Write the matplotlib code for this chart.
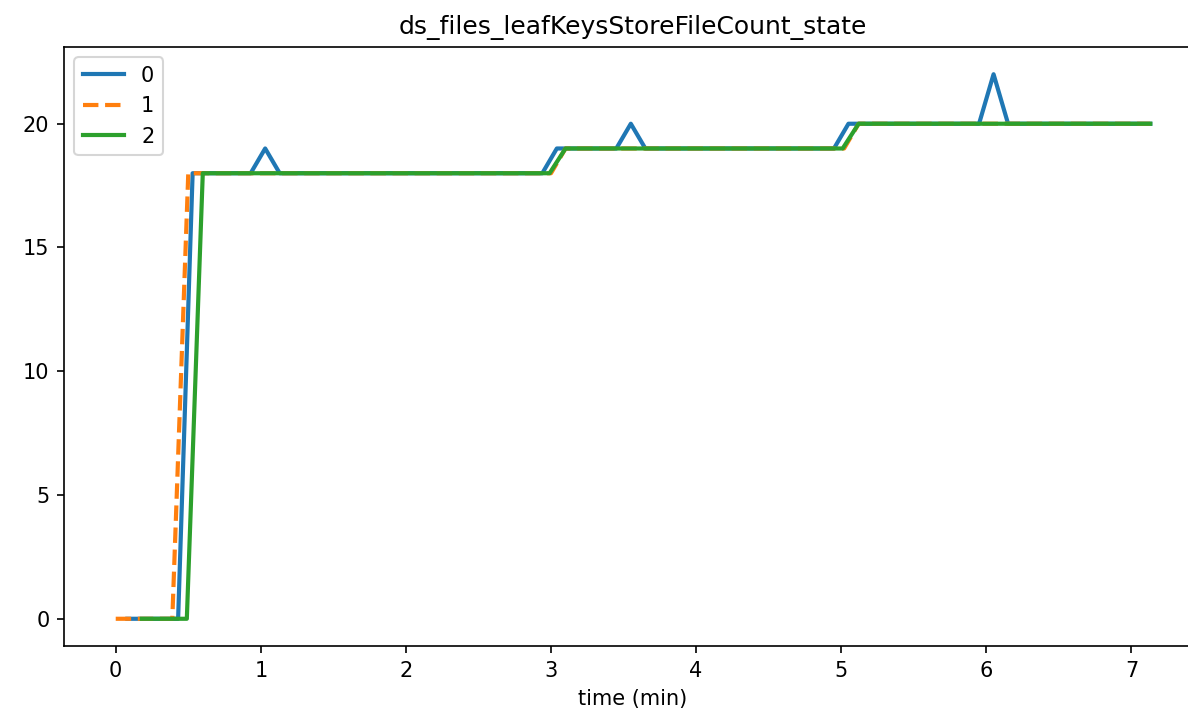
import matplotlib
matplotlib.use('Agg')
import matplotlib.pyplot as plt

# sampled vertices per node (time in min, value)
t0 = [0.08, 0.43, 0.53, 0.93, 1.03, 1.13, 2.94, 3.04, 3.45, 3.55, 3.65,
      4.95, 5.05, 5.95, 6.05, 6.15, 7.13]
v0 = [0, 0, 18, 18, 19, 18, 18, 19, 19, 20, 19, 19, 20, 20, 22, 20, 20]

t1 = [0.0, 0.39, 0.50, 3.0, 3.1, 5.02, 5.12, 7.13]
v1 = [0, 0, 18, 18, 19, 19, 20, 20]

t2 = [0.18, 0.49, 0.60, 2.99, 3.1, 5.01, 5.12, 7.13]
v2 = [0, 0, 18, 18, 19, 19, 20, 20]

fig = plt.figure(figsize=(1188/150, 717/150), dpi=150)
ax = fig.add_axes([64/1188, (717-646)/717, (1202-64)/1188, (646-47)/717])

ax.plot(t0, v0, lw=2, label='0')
ax.plot(t1, v1, '--', lw=2, label='1')
ax.plot(t2, v2, lw=2, label='2')

ax.set_title('ds_files_leafKeysStoreFileCount_state')
ax.set_xlabel('time (min)')
ax.legend(loc='upper left')

fig.savefig('out.png', dpi=150)
